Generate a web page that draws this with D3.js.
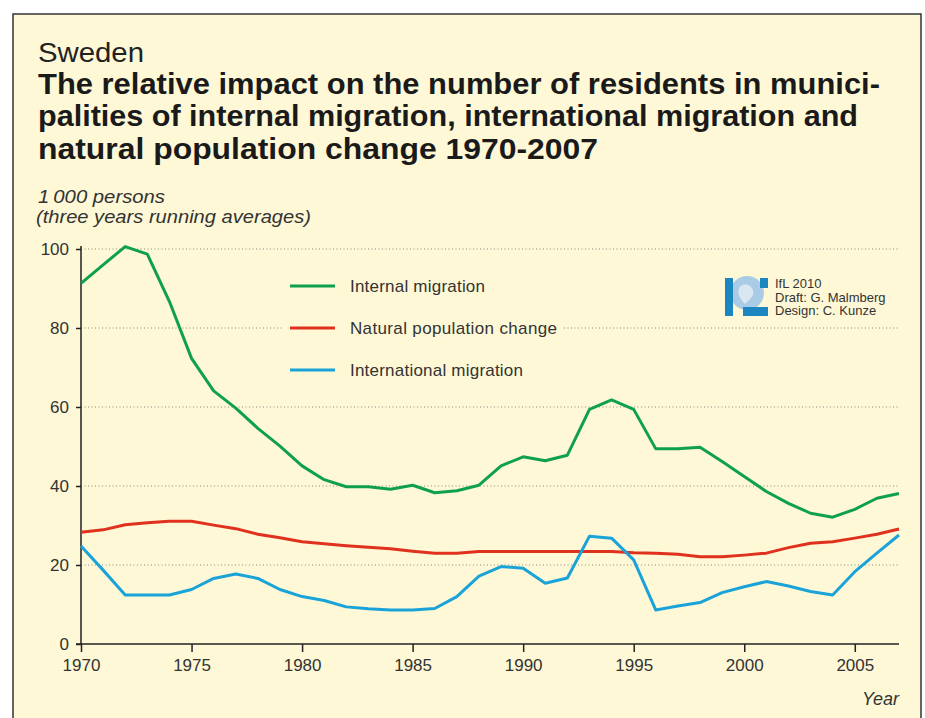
<!DOCTYPE html>
<html>
<head>
<meta charset="utf-8">
<script src="https://cdn.jsdelivr.net/npm/d3@7"></script>
<style>
  body { margin: 0; background: #fff; }
  text { font-family: "Liberation Sans", Arial, sans-serif; }
</style>
</head>
<body>
<div id="chart"></div>
<script>
// data (1 000 persons, three years running averages)
var years = d3.range(1970, 2008);
var internalMigration = [91.3, 96, 100.6, 98.7, 86.7, 72.3, 64.1, 59.7, 54.6, 50.1,
  45.1, 41.6, 39.8, 39.8, 39.2, 40.2, 38.3, 38.8, 40.2, 45.1,
  47.4, 46.4, 47.8, 59.4, 61.8, 59.4, 49.4, 49.4, 49.8, 46.2,
  42.4, 38.6, 35.6, 33.1, 32.1, 34.1, 36.9, 38.1];
var naturalChange = [28.3, 28.9, 30.2, 30.7, 31.1, 31.1, 30.1, 29.2, 27.8, 26.9,
  25.9, 25.4, 24.9, 24.5, 24.1, 23.5, 23.0, 23.0, 23.4, 23.4,
  23.4, 23.4, 23.4, 23.4, 23.4, 23.1, 23.0, 22.7, 22.1, 22.1,
  22.5, 23.0, 24.4, 25.5, 25.9, 26.8, 27.8, 29.1];
var internationalMigration = [24.8, 18.7, 12.4, 12.4, 12.4, 13.8, 16.6, 17.7, 16.6, 13.8,
  12.0, 11.0, 9.4, 8.9, 8.6, 8.6, 9.0, 12.0, 17.2, 19.6,
  19.2, 15.4, 16.7, 27.3, 26.8, 21.3, 8.6, 9.6, 10.5, 13.0,
  14.5, 15.8, 14.7, 13.3, 12.4, 18.3, 23.0, 27.6];
var seriesNames = ["Internal migration", "Natural population change", "International migration"];
var yTicks = [0, 20, 40, 60, 80, 100];
var xTicks = [1970, 1975, 1980, 1985, 1990, 1995, 2000, 2005];
var titleLines = [
  "The relative impact on the number of residents in munici-",
  "palities of internal migration, international migration and",
  "natural population change 1970-2007"
];
var creditLines = ["IfL 2010", "Draft: G. Malmberg", "Design: C. Kunze"];

var W = 925, H = 718;
var colors = ["#0fa04e", "#e0301e", "#1aa3d9"];
var bg = "#fef8d6";

var svg = d3.select("#chart").append("svg")
  .attr("width", W)
  .attr("height", H);

// frame
svg.append("rect")
  .attr("x", 13).attr("y", 14)
  .attr("width", 908).attr("height", 730)
  .style("fill", bg)
  .style("stroke", "#333")
  .style("stroke-width", 1.5);

// headings
svg.append("text")
  .attr("x", 38).attr("y", 62)
  .attr("textLength", 106).attr("lengthAdjust", "spacingAndGlyphs")
  .style("font-size", "28px")
  .style("fill", "#222")
  .text("Sweden");

var titleWidths = [842, 820, 560];
svg.selectAll(".title")
  .data(titleLines)
  .enter().append("text")
  .attr("class", "title")
  .attr("x", 38)
  .attr("y", (d, i) => 93.5 + i * 32.5)
  .attr("textLength", (d, i) => titleWidths[i])
  .attr("lengthAdjust", "spacingAndGlyphs")
  .style("font-size", "29.5px")
  .style("font-weight", "bold")
  .style("fill", "#1a1a1a")
  .text(d => d);

svg.append("text")
  .attr("x", 38).attr("y", 203)
  .attr("textLength", 127).attr("lengthAdjust", "spacingAndGlyphs")
  .style("font-size", "17.5px").style("font-style", "italic").style("fill", "#333")
  .text("1\u2009000 persons");
svg.append("text")
  .attr("x", 36).attr("y", 223)
  .attr("textLength", 275).attr("lengthAdjust", "spacingAndGlyphs")
  .style("font-size", "17.5px").style("font-style", "italic").style("fill", "#333")
  .text("(three years running averages)");

// scales
var x = d3.scaleLinear().domain([1970, 2007]).range([81, 899]);
var y = d3.scaleLinear().domain([0, 100]).range([644, 249]);

// grid
svg.append("g")
  .selectAll("line")
  .data(yTicks.filter(d => d > 0))
  .enter().append("line")
  .attr("x1", x(1970)).attr("x2", x(2007))
  .attr("y1", d => y(d)).attr("y2", d => y(d))
  .style("stroke", "#8a8a80")
  .style("stroke-width", 1)
  .style("stroke-dasharray", "1,2.5");

// axes
var yAxis = svg.append("g")
  .attr("transform", "translate(" + x(1970) + ",0)")
  .call(d3.axisLeft(y).tickValues(yTicks).tickSize(5).tickPadding(7));
var xAxis = svg.append("g")
  .attr("transform", "translate(0," + y(0) + ")")
  .call(d3.axisBottom(x).tickValues(xTicks).tickFormat(d3.format("d")).tickSize(8).tickPadding(7));
[yAxis, xAxis].forEach(function(a) {
  a.select(".domain").style("stroke", "#222").style("stroke-width", 1.5);
  a.selectAll(".tick line").style("stroke", "#222").style("stroke-width", 1.5);
  a.selectAll(".tick text")
    .style("font-size", "17px")
    .style("font-family", "Liberation Sans, Arial, sans-serif")
    .style("fill", "#333");
});
yAxis.select(".domain").attr("d", "M-5," + y(0) + "H0V" + (y(100) - 3));
xAxis.select(".domain").attr("d", "M" + x(1970) + ",0H" + x(2007));

svg.append("text")
  .attr("x", 899).attr("y", 705)
  .attr("text-anchor", "end")
  .style("font-size", "18px").style("font-style", "italic").style("fill", "#333")
  .text("Year");

// lines
var data = [internalMigration, naturalChange, internationalMigration];
var line = d3.line()
  .x((d, i) => x(years[i]))
  .y(d => y(d));
svg.append("g")
  .selectAll("path")
  .data(data)
  .enter().append("path")
  .attr("d", d => line(d))
  .style("fill", "none")
  .style("stroke", (d, i) => colors[i])
  .style("stroke-width", 3)
  .style("stroke-linejoin", "round");

// legend, with a patch of background so the 80 gridline breaks behind it
var legendWidths = [135, 207, 173];
var legend = svg.append("g");
legend.append("rect")
  .attr("x", 283).attr("y", y(80) - 8)
  .attr("width", 280).attr("height", 16)
  .style("fill", bg);
var item = legend.selectAll(".item")
  .data(seriesNames)
  .enter().append("g")
  .attr("class", "item")
  .attr("transform", (d, i) => "translate(0," + (286 + i * 42) + ")");
item.append("line")
  .attr("x1", 290).attr("x2", 335)
  .style("stroke", (d, i) => colors[i])
  .style("stroke-width", 3);
item.append("text")
  .attr("x", 350).attr("dy", "0.35em")
  .attr("textLength", (d, i) => legendWidths[i])
  .attr("lengthAdjust", "spacing")
  .style("font-size", "17px")
  .style("fill", "#333")
  .text(d => d);

// IfL logo and credits
var logo = svg.append("g").attr("transform", "translate(725,278)");
logo.append("circle")
  .attr("cx", 22).attr("cy", 15).attr("r", 17)
  .style("fill", "#a9cbe6");
logo.append("rect").attr("x", 0).attr("y", 0).attr("width", 8).attr("height", 38).style("fill", "#1b86c0");
logo.append("rect").attr("x", 35).attr("y", 0).attr("width", 8).attr("height", 10).style("fill", "#1b86c0");
logo.append("rect").attr("x", 18).attr("y", 29).attr("width", 25).attr("height", 9).style("fill", "#1b86c0");
logo.append("path")
  .attr("d", "M14,10 C18,4 26,6 28,12 C30,18 24,22 20,26 C16,22 12,16 14,10 Z")
  .style("fill", "#e6eef6")
  .style("opacity", 0.8);

svg.selectAll(".credit")
  .data(creditLines)
  .enter().append("text")
  .attr("class", "credit")
  .attr("x", 775)
  .attr("y", (d, i) => 288 + i * 13.5)
  .style("font-size", "13px")
  .style("fill", "#333")
  .text(d => d);
</script>
</body>
</html>
